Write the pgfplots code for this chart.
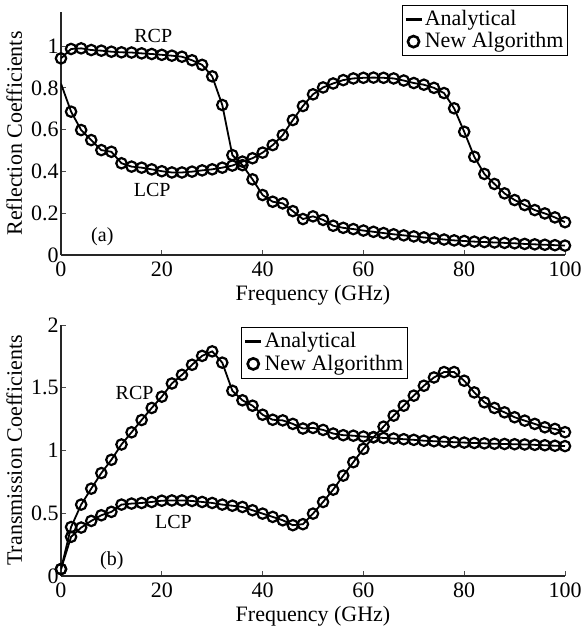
\documentclass[border=0pt]{standalone}
\usepackage{fontspec}
\setmainfont{Liberation Serif}
\usepackage{pgfplots}
\pgfplotsset{compat=1.18}
\usepackage{pgfplotstable}

% (a) reflection
\pgfplotstableread{
f v
0 0.941
2 0.986
4 0.989
6 0.981
8 0.978
10 0.973
12 0.970
14 0.969
16 0.965
18 0.962
20 0.958
22 0.954
24 0.949
26 0.932
28 0.910
30 0.855
32 0.718
34 0.478
36 0.430
38 0.362
40 0.287
42 0.255
44 0.247
46 0.210
48 0.172
50 0.185
52 0.168
54 0.140
56 0.130
58 0.124
60 0.117
62 0.111
64 0.105
66 0.099
68 0.094
70 0.089
72 0.084
74 0.079
76 0.074
78 0.070
80 0.067
82 0.064
84 0.062
86 0.060
88 0.058
90 0.056
92 0.053
94 0.051
96 0.049
98 0.047
100 0.045
}\reflRCP

\pgfplotstableread{
f v
0 0.820
2 0.686
4 0.598
6 0.550
8 0.502
10 0.494
12 0.439
14 0.423
16 0.418
18 0.410
20 0.401
22 0.395
24 0.395
26 0.399
28 0.405
30 0.410
32 0.418
34 0.428
36 0.447
38 0.463
40 0.490
42 0.526
44 0.574
46 0.646
48 0.713
50 0.769
52 0.802
54 0.821
56 0.837
58 0.845
60 0.848
62 0.849
64 0.848
66 0.845
68 0.835
70 0.823
72 0.815
74 0.800
76 0.775
78 0.702
80 0.590
82 0.470
84 0.388
86 0.340
88 0.295
90 0.263
92 0.239
94 0.215
96 0.199
98 0.180
100 0.157
}\reflLCP

% (b) transmission
\pgfplotstableread{
f v
0 0.055
2 0.390
4 0.569
6 0.696
8 0.820
10 0.926
12 1.048
14 1.145
16 1.243
18 1.339
20 1.429
22 1.534
24 1.603
26 1.683
28 1.754
30 1.790
32 1.700
34 1.476
36 1.400
38 1.357
40 1.285
42 1.245
44 1.240
46 1.212
48 1.175
50 1.180
52 1.164
54 1.135
56 1.122
58 1.118
60 1.111
62 1.106
64 1.100
66 1.095
68 1.090
70 1.085
72 1.078
74 1.074
76 1.070
78 1.066
80 1.063
82 1.060
84 1.057
86 1.054
88 1.052
90 1.050
92 1.048
94 1.045
96 1.042
98 1.038
100 1.035
}\transRCP

\pgfplotstableread{
f v
0 0.055
2 0.312
4 0.386
6 0.439
8 0.484
10 0.511
12 0.569
14 0.577
16 0.582
18 0.590
20 0.600
22 0.602
24 0.602
26 0.598
28 0.590
30 0.582
32 0.569
34 0.560
36 0.550
38 0.524
40 0.497
42 0.471
44 0.444
46 0.405
48 0.413
50 0.497
52 0.590
54 0.688
56 0.800
58 0.907
60 1.013
62 1.106
64 1.190
66 1.278
68 1.357
70 1.437
72 1.516
74 1.582
76 1.625
78 1.625
80 1.556
82 1.463
84 1.384
86 1.339
88 1.304
90 1.265
92 1.238
94 1.212
96 1.185
98 1.172
100 1.146
}\transLCP

\tikzset{lab/.style={font=\fontsize{10}{12}\selectfont}}

\pgfplotsset{
  coeff/.style={
    scale only axis, width=252pt,
    xmin=0, xmax=100, ymin=0, xtick={0,20,...,100},
    axis x line*=bottom, axis y line*=left,
    axis line style={-, black!85, line width=0.6pt},
    tick align=inside, major tick length=2.5pt,
    tick style={black!70, line width=0.5pt},
    font=\fontsize{11}{13}\selectfont,
    /pgf/number format/assume math mode=true,
    xticklabel style={inner ysep=3pt},
    yticklabel style={inner xsep=1pt},
    xlabel={Frequency (GHz)},
    xlabel style={yshift=2pt},
    legend cell align=left,
    legend style={draw=black, line width=0.5pt, inner xsep=1pt, inner ysep=1.5pt,
      font=\fontsize{11}{12}\selectfont, row sep=0pt,
      nodes={inner xsep=1pt, inner ysep=1pt}},
  },
  ana/.style={black, line width=0.9pt, mark=none,
    legend image code/.code={\draw[##1, line width=1.3pt] (0pt,0pt) -- (8pt,0pt);}},
  alg/.style={black, only marks, mark=o, mark size=2.6pt,
    mark options={line width=1.1pt},
    legend image code/.code={\draw[##1, mark size=2.8pt, mark options={line width=1.3pt}] plot coordinates {(4pt,0pt)};}},
}

\begin{document}
\begin{tikzpicture}
\useasboundingbox (-30.5pt,-25.5pt) rectangle (260pt,288pt);

% (a)
\begin{axis}[coeff, at={(0pt,160.5pt)}, anchor=south west,
    height=121.5pt, ymax=1.163, ytick={0,0.2,...,1},
    yticklabels={0,0.2,0.4,0.6,0.8,1},
    ylabel={Reflection Coefficients},
    legend style={at={(1.006,1.03)}, anchor=north east}]
\addplot[ana] table[x=f,y=v] {\reflRCP};
\addlegendentry{Analytical}
\addplot[alg] table[x=f,y=v] {\reflRCP};
\addlegendentry{New Algorithm}
\addplot[ana, forget plot] table[x=f,y=v] {\reflLCP};
\addplot[alg, forget plot, restrict x to domain=1:101] table[x=f,y=v] {\reflLCP};
\node[lab] at (axis cs:18.3,1.05) {RCP};
\node[lab] at (axis cs:18.1,0.31) {LCP};
\node[lab] at (axis cs:8.2,0.086) {(a)};
\end{axis}

% (b)
\begin{axis}[coeff, at={(0pt,0pt)}, anchor=south west,
    height=125.5pt, ymax=2, ytick={0,0.5,...,2},
    yticklabels={0,0.5,1,1.5,2},
    ylabel={Transmission Coefficients},
    legend style={at={(0.688,0.992)}, anchor=north east}]
\addplot[ana] table[x=f,y=v] {\transRCP};
\addlegendentry{Analytical}
\addplot[alg] table[x=f,y=v] {\transRCP};
\addlegendentry{New Algorithm}
\addplot[ana, forget plot] table[x=f,y=v] {\transLCP};
\addplot[alg, forget plot] table[x=f,y=v] {\transLCP};
\node[lab] at (axis cs:14.6,1.46) {RCP};
\node[lab] at (axis cs:22.3,0.43) {LCP};
\node[lab] at (axis cs:10.1,0.12) {(b)};
\end{axis}
\end{tikzpicture}
\end{document}
